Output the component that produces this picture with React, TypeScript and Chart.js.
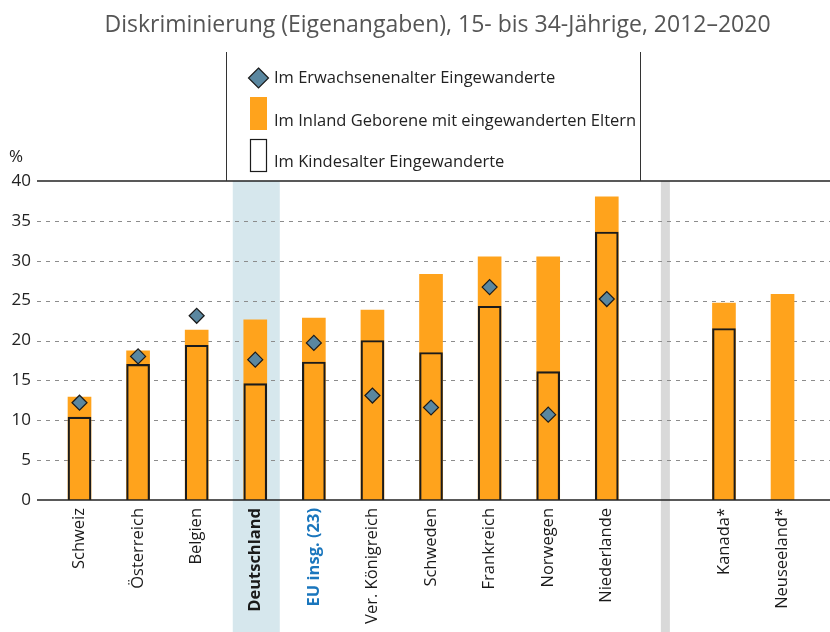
import React, { useEffect, useRef } from 'react';
import { Chart, registerables } from 'chart.js';

Chart.register(...registerables);

const title = 'Diskriminierung (Eigenangaben), 15- bis 34-Jährige, 2012–2020';
const categories = ['Schweiz', 'Österreich', 'Belgien', 'Deutschland', 'EU insg. (23)', 'Ver. Königreich', 'Schweden', 'Frankreich', 'Norwegen', 'Niederlande', '', 'Kanada*', 'Neuseeland*'];
const inlandGeborene = [12.9, 18.7, 21.3, 22.6, 22.8, 23.8, 28.3, 30.5, 30.5, 38.0, null, 24.7, 25.8];
const kindesalter = [10.4, 17.0, 19.4, 14.6, 17.3, 20.0, 18.5, 24.3, 16.1, 33.6, null, 21.5, null];
const erwachsenenalter = [12.2, 18.0, 23.1, 17.6, 19.7, 13.1, 11.6, 26.7, 10.7, 25.2, null, null, null];
const yTicks = [0, 5, 10, 15, 20, 25, 30, 35, 40];
const legendLabels = ['Im Erwachsenenalter Eingewanderte', 'Im Inland Geborene mit eingewanderten Eltern', 'Im Kindesalter Eingewanderte'];
const highlightCategory = 'Deutschland';
const euCategory = 'EU insg. (23)';

const ORANGE = '#ffa31c';
const DIAMOND = '#5a87a0';
const FONT = '"Open Sans", sans-serif';

const toXY = (arr: (number | null)[]) => arr.map((v, i) => ({ x: i, y: v }));

export default function App() {
  const ref = useRef<HTMLCanvasElement | null>(null);
  useEffect(() => {
    if (!ref.current) return;
    const gapIndex = categories.indexOf('');
    const decor = {
      id: 'decor',
      beforeDraw(chart: any) {
        const { ctx, chartArea: a, scales } = chart;
        const x = scales.x, y = scales.y;
        ctx.save();
        const dx = x.getPixelForValue(categories.indexOf(highlightCategory));
        ctx.fillStyle = '#d6e7ed';
        ctx.fillRect(dx - 23.5 + 1, a.top, 47, chart.height - a.top);
        const gx = x.getPixelForValue(gapIndex);
        ctx.fillStyle = '#d9d9d9';
        ctx.fillRect(gx - 4.5, a.top, 9, chart.height - a.top);
        ctx.strokeStyle = '#8c8c8c';
        ctx.lineWidth = 1;
        ctx.setLineDash([4, 5]);
        for (const v of yTicks) {
          if (v === 0 || v === 40) continue;
          const py = Math.round(y.getPixelForValue(v)) + 0.5;
          ctx.beginPath();
          ctx.moveTo(a.left, py);
          ctx.lineTo(a.right, py);
          ctx.stroke();
        }
        ctx.restore();
      },
      afterDraw(chart: any) {
        const { ctx, chartArea: a, scales } = chart;
        const y = scales.y;
        ctx.save();
        ctx.strokeStyle = '#222';
        ctx.lineWidth = 1.5;
        ctx.setLineDash([]);
        for (const v of [0, 40]) {
          const py = y.getPixelForValue(v);
          ctx.beginPath();
          ctx.moveTo(a.left, py);
          ctx.lineTo(a.right, py);
          ctx.stroke();
        }
        ctx.lineWidth = 1;
        ctx.strokeStyle = '#333';
        for (const lx of [226.5, 640.5]) {
          ctx.beginPath();
          ctx.moveTo(lx, 52);
          ctx.lineTo(lx, a.top);
          ctx.stroke();
        }
        ctx.fillStyle = '#555';
        ctx.font = `23px ${FONT}`;
        ctx.textAlign = 'center';
        ctx.textBaseline = 'middle';
        ctx.fillText(title, 437.5, 25);
        ctx.fillStyle = '#222';
        ctx.font = `17px ${FONT}`;
        ctx.textAlign = 'left';
        ctx.fillText('%', 9, 157);
        const lx = 258.5;
        ctx.fillStyle = DIAMOND;
        ctx.strokeStyle = '#1b1b1b';
        ctx.lineWidth = 1.2;
        ctx.beginPath();
        ctx.moveTo(lx, 68);
        ctx.lineTo(lx + 10, 78);
        ctx.lineTo(lx, 88);
        ctx.lineTo(lx - 10, 78);
        ctx.closePath();
        ctx.fill();
        ctx.stroke();
        ctx.fillStyle = ORANGE;
        ctx.fillRect(250, 97, 17, 33);
        ctx.strokeStyle = '#1b1b1b';
        ctx.lineWidth = 1.2;
        ctx.strokeRect(250.5, 139.5, 16, 32);
        ctx.fillStyle = '#222';
        ctx.font = `16.5px ${FONT}`;
        ctx.textAlign = 'left';
        ctx.fillText(legendLabels[0], 274, 78);
        ctx.fillText(legendLabels[1], 274, 121);
        ctx.fillText(legendLabels[2], 274, 162);
        ctx.restore();
      },
    };

    const chart = new Chart(ref.current, {
      type: 'bar',
      data: {
        datasets: [
          {
            type: 'line',
            label: legendLabels[0],
            data: toXY(erwachsenenalter),
            showLine: false,
            pointStyle: 'rectRot',
            pointRadius: 7.5,
            backgroundColor: DIAMOND,
            borderColor: '#1b1b1b',
            borderWidth: 1.2,
            clip: false,
            order: 0,
          } as any,
          {
            label: legendLabels[2],
            data: toXY(kindesalter),
            backgroundColor: 'rgba(0,0,0,0)',
            borderColor: '#1b1b1b',
            borderWidth: 1.5,
            barThickness: 23,
            grouped: false,
            order: 1,
          },
          {
            label: legendLabels[1],
            data: toXY(inlandGeborene),
            backgroundColor: ORANGE,
            borderWidth: 0,
            barThickness: 23,
            grouped: false,
            order: 2,
          },
        ],
      },
      options: {
        responsive: false,
        animation: false,
        layout: { autoPadding: false, padding: { top: 181, right: 0, left: 0, bottom: 0 } },
        plugins: { legend: { display: false }, tooltip: { enabled: false }, title: { display: false } },
        scales: {
          x: {
            type: 'linear',
            offset: false,
            min: -0.7255,
            max: 12.81,
            grid: { display: false, drawTicks: false, tickLength: 0 },
            border: { display: false },
            afterBuildTicks: (scale: any) => {
              scale.ticks = categories.map((_, i) => ({ value: i }));
            },
            afterFit: (scale: any) => {
              scale.height = 132;
              scale.paddingLeft = 0;
              scale.paddingRight = 0;
            },
            ticks: {
              autoSkip: false,
              minRotation: 90,
              maxRotation: 90,
              padding: 8,
              callback: (v: any) => categories[v] ?? '',
              color: (c: any) => (categories[c.tick?.value] === euCategory ? '#1a76bd' : '#1a1a1a'),
              font: (c: any) => {
                const name = categories[c.tick?.value];
                const bold = name === highlightCategory || name === euCategory;
                return { family: FONT, size: 16.5, weight: bold ? 'bold' : 'normal' } as any;
              },
            },
          },
          y: {
            type: 'linear',
            min: 0,
            max: 40,
            grid: { display: false, drawTicks: false, tickLength: 0 },
            border: { display: false },
            afterBuildTicks: (scale: any) => {
              scale.ticks = yTicks.map((v) => ({ value: v }));
            },
            afterFit: (scale: any) => {
              scale.width = 37;
              scale.paddingTop = 0;
              scale.paddingBottom = 0;
            },
            ticks: {
              padding: 6,
              color: '#222',
              font: { family: FONT, size: 17 },
            },
          },
        },
      },
      plugins: [decor],
    });
    return () => chart.destroy();
  }, []);

  return (
    <div style={{ position: 'absolute', left: 0, top: 0, width: 830, height: 632, background: '#fff' }}>
      <canvas ref={ref} width={830} height={632} style={{ display: 'block' }} />
    </div>
  );
}
